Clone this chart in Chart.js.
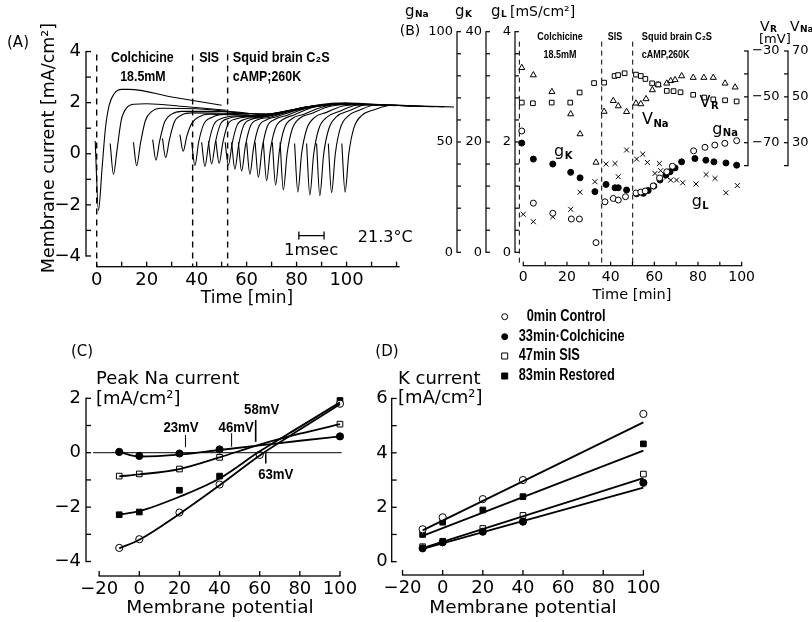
<!DOCTYPE html>
<html lang="en">
<head>
<meta charset="UTF-8">
<title>Colchicine, SIS and squid brain C2S: membrane currents</title>
<script src="https://cdn.jsdelivr.net/npm/chart.js"></script>
<style>
  body { margin: 0; background: #fff; }
  #wrap { position: relative; width: 812px; height: 622px; overflow: hidden; }
  #view { position: absolute; left: 0; top: 0; }
  .panel { position: absolute; visibility: hidden; }
</style>
</head>
<body>
<div id="wrap">
  <canvas class="panel" id="chartA" width="470" height="310" style="left:0;top:0"></canvas>
  <canvas class="panel" id="chartB" width="412" height="310" style="left:400px;top:0"></canvas>
  <canvas class="panel" id="chartC" width="370" height="302" style="left:0;top:320px"></canvas>
  <canvas class="panel" id="chartD" width="442" height="322" style="left:370px;top:300px"></canvas>
  <canvas id="view" width="812" height="622"></canvas>
</div>
<script>
// ---- (A) current traces, [time min, current mA/cm2] ----
const aTraces = [
  [[-0.6,0.5],[0.7,-2.22],[2.2,-0.5],[3.5,1.0],[5,1.9],[7,2.35],[10,2.52],[13,2.52],[30,2.22],[50,1.9]],
  [[5.4,0.4],[6.7,-0.8],[8.2,0.2],[9.8,1.3],[12,1.8],[15,1.94],[20,1.96],[35,1.85],[52,1.7]],
  [[14.7,0.45],[16,-0.47],[17.5,0.4],[19.5,1.3],[22,1.65],[26,1.78],[40,1.76],[61,1.55]],
  [[22.4,0.55],[23.7,-0.25],[25.2,0.5],[27.2,1.25],[30,1.55],[34,1.66],[50,1.66],[68,1.5]],
  [[26.3,0.6],[27.6,-0.15],[29.1,0.55],[31.1,1.25],[34,1.52],[38,1.6],[55,1.58],[73,1.55]],
  [[33.3,0.75],[34.6,0.1],[36.1,0.7],[38.1,1.2],[41,1.45],[45,1.55],[62,1.5],[80,1.72]],
  [[38.0,0.45],[39.3,-0.46],[40.8,0.45],[42.8,1.15],[46,1.42],[52,1.55],[63,1.5],[72,1.58],[84,1.85]],
  [[42,0.45],[43.3,-0.5],[44.8,0.4],[46.8,1.12],[50,1.38],[56,1.48],[63,1.48],[72,1.6],[88,1.9]],
  [[44.7,0.5],[46,-0.4],[47.5,0.45],[49.5,1.15],[52.7,1.38],[58,1.46],[64,1.46],[74,1.62],[91,1.9]],
  [[47.7,0.5],[49,-0.38],[50.5,0.45],[52.5,1.15],[55.7,1.36],[60,1.44],[65,1.45],[76,1.68],[94,1.95]],
  [[51.4,0.45],[52.7,-0.45],[54.2,0.4],[56.2,1.12],[59.4,1.35],[64,1.42],[70,1.5],[80,1.75],[98,1.97]],
  [[54,0.45],[55.3,-0.6],[56.8,0.35],[58.8,1.1],[62,1.35],[66,1.42],[72,1.55],[82,1.8],[100,1.98]],
  [[56.7,0.45],[58,-0.68],[59.5,0.3],[61.5,1.08],[64.7,1.34],[69,1.42],[75,1.6],[85,1.85],[103,1.95]],
  [[60,0.45],[61.3,-0.8],[62.8,0.25],[64.8,1.05],[68,1.33],[72,1.45],[78,1.65],[88,1.9],[106,1.95]],
  [[63.4,0.45],[64.7,-0.92],[66.2,0.2],[68.2,1.05],[71.4,1.35],[76,1.5],[82,1.72],[92,1.95],[110,1.93]],
  [[66.7,0.45],[68,-1.05],[69.5,0.15],[71.5,1.0],[74.7,1.35],[79,1.52],[86,1.8],[96,1.98],[113,1.9]],
  [[70.3,0.45],[71.6,-1.22],[73.1,0.1],[75.1,1.0],[78.3,1.38],[83,1.55],[90,1.82],[100,1.98],[117,1.9]],
  [[73.4,0.45],[74.7,-1.42],[76.2,0.0],[78.2,0.95],[81.4,1.4],[86,1.58],[93,1.85],[104,1.95],[120,1.88]],
  [[79.2,0.4],[80.5,-1.5],[82,0.0],[84,0.95],[87.2,1.42],[92,1.62],[99,1.88],[110,1.93],[126,1.86]],
  [[84,0.4],[85.3,-1.62],[86.8,-0.05],[88.8,0.95],[92,1.42],[97,1.65],[104,1.9],[115,1.92],[131,1.85]],
  [[88,0.4],[89.3,-1.64],[90.8,-0.05],[92.8,0.95],[96,1.45],[101,1.68],[108,1.92],[119,1.9],[135,1.84]],
  [[92.7,0.4],[94,-1.52],[95.5,0.0],[97.5,1.0],[100.7,1.48],[105,1.7],[112,1.92],[123,1.88],[139,1.84]],
  [[98.1,0.4],[99.4,-1.5],[100.9,0.0],[102.9,1.0],[106.1,1.5],[111,1.72],[118,1.9],[128,1.87],[143,1.83]]
];
const aPhaseMarks = [0, 38.4, 52.4];          // solution changes, min
const aTimeTicks = [0, 20, 40, 60, 80, 100];
const aCurrentTicks = [4, 2, 0, -2, -4];
const aScaleBar = [[80.9, -3.2], [91, -3.2]];  // 1 msec bar

// ---- (B) time course, [time min, value] ----
const bGNa = [[-0.7,55],[4.6,22.3],[13.5,17.7],[22,15.1],[25.7,15.1],[33.3,4.4],[37.4,22.9],[41.2,24.4],[43.5,23.7],[46.8,25.2],[51.6,26.9],[53.8,27.3],[55.8,27.8],[59.5,30.1],[62.4,33.7],[65.7,36.5],[68.3,39],[78,46],[83.2,47.6],[87.7,48.6],[92.3,49.4],[97.7,50.6]];
const bGK = [[-0.7,19.8],[4.6,16.9],[13.5,16.0],[21.7,14.5],[26,13.5],[32.8,11.0],[37.9,12.3],[42,11.7],[43.5,11.7],[47.3,11.3],[51.9,10.6],[55,10.7],[57.2,11.2],[59.8,12.0],[62.6,13.1],[65.3,14.0],[67.2,14.6],[69.5,15.3],[72.5,16.4],[78.6,17.0],[83.6,16.7],[87.3,16.4],[92.8,16.2],[97.7,15.8]];
const bGL = [[0,0.69],[4.6,0.555],[13.5,0.645],[21.7,0.78],[26,1.09],[32.8,1.28],[37.9,1.6],[42,1.61],[43.5,1.37],[47.3,1.855],[51.9,1.69],[54.7,1.78],[56.8,1.63],[60.3,1.43],[62.3,1.61],[62.9,1.48],[65.7,1.37],[67.5,1.31],[70.2,1.31],[73,1.26],[79.1,1.24],[83.7,1.41],[87.8,1.34],[92.8,1.08],[98,1.21]];
const bVR = [[-0.7,-52.5],[4.4,-52.8],[13,-52.5],[21.5,-52.5],[25.8,-48.1],[32.4,-44],[37,-43.8],[41.8,-40.9],[43.4,-40.5],[46.4,-39.7],[51.6,-40.3],[53.8,-40.9],[55.9,-42.2],[59,-44.1],[61.8,-44.6],[65.7,-47.4],[68.8,-47.5],[72,-48],[77.8,-49.1],[82.9,-50.3],[87,-51.1],[92.4,-51.5],[97.7,-52]];
const bVNa = [[-0.7,62.7],[4.6,59.5],[13.1,52.2],[21.7,42.5],[26,33.8],[33.3,21.4],[37,43.6],[41.2,48.3],[43.5,46],[47.3,43.5],[51.6,47.2],[53.8,46.9],[56.2,49.1],[59.1,53],[61.8,55.2],[65.7,55.9],[67.5,57],[69.5,57.4],[72.5,59.1],[77.8,58.4],[82.7,58.4],[87,58.4],[92.4,55.9],[97,54.2]];
const bPhaseMarks = [-1.8, 35.9, 50.1];
const bTimeTicks = [0, 20, 40, 60, 80, 100];
const bGNaTicks = [100, 50, 0];
const bGKTicks = [40, 20, 0];
const bGLTicks = [4, 2, 0];
const bVRTicks = [-30, -50, -70];
const bVNaTicks = [70, 50, 30];

// ---- (C) peak Na current vs membrane potential ----
const cPotential = [-10, 0, 20, 40, 100];
const cControl = [-3.5, -3.18, -2.2, -1.17, 1.8];
const cControl60 = -0.08;                     // extra control point at 60 mV
const cColchicine = [0.03, -0.12, -0.03, 0.12, 0.6];
const cSIS = [-0.86, -0.78, -0.6, -0.17, 1.05];
const cRestored = [-2.28, -2.18, -1.38, -0.86, 1.92];
const cFitPotential = [-10, 0, 20, 40, 60, 80, 100];
const cFitControl = [-3.52, -3.2, -2.25, -1.2, -0.1, 0.85, 1.78];
const cFitColchicine = [0.03, -0.14, -0.07, 0.1, 0.27, 0.44, 0.6];
const cFitSIS = [-0.87, -0.8, -0.6, -0.17, 0.3, 0.7, 1.05];
const cFitRestored = [-2.28, -2.15, -1.62, -0.95, 0.05, 0.95, 1.85];
const cReversal = [23, 46, 58, 63];           // mV
const cPotentialTicks = [-20, 0, 20, 40, 60, 80, 100];
const cCurrentTicks = [2, 0, -2, -4];

// ---- (D) K current vs membrane potential ----
const dPotential = [-10, 0, 20, 40, 100];
const dControl = [1.19, 1.63, 2.3, 3.0, 5.43];
const dColchicine = [0.49, 0.71, 1.1, 1.47, 2.9];
const dSIS = [0.55, 0.75, 1.22, 1.7, 3.22];
const dRestored = [1.0, 1.45, 1.9, 2.39, 4.33];
const dFitEnds = [-10, 100];
const dFitControl = [1.15, 5.12];
const dFitColchicine = [0.47, 2.72];
const dFitSIS = [0.5, 3.07];
const dFitRestored = [0.95, 4.08];
const dCurrentTicks = [6, 4, 2, 0];
const legendLabels = ['0min Control', '33min\u00b7Colchicine', '47min SIS', '83min Restored'];

const NUM = "'DejaVu Sans', sans-serif";
const NAR = "'Liberation Sans', Arial, sans-serif";   // squeezed horizontally when drawn
const minus = v => String(v).replace('-', '\u2212');

Chart.defaults.animation = false;
Chart.defaults.color = '#000';
Chart.defaults.plugins.legend.display = false;
Chart.defaults.plugins.tooltip.enabled = false;

function pairs(arr) { return arr.map(p => ({x: p[0], y: p[1]})); }
function zip(xs, ys) { return xs.map((x, i) => ({x: x, y: ys[i]})); }

function axis(opts) {
  // scale with fixed box size, explicit tick labels, no built-in lines
  return Object.assign({
    type: 'linear',
    grid: {display: false, drawTicks: false},
    border: {display: false},
    ticks: {
      autoSkip: false, maxRotation: 0, padding: opts.pad || 4,
      font: {family: NUM, size: opts.fontSize || 18},
      callback: v => minus(v)
    },
    afterBuildTicks: s => { s.ticks = opts.tickValues.map(v => ({value: v})); },
    afterFit: s => { if (opts.box.w) s.width = opts.box.w; if (opts.box.h) s.height = opts.box.h; }
  }, opts.base);
}

function drawLabel(chart, t) {
  const ctx = chart.ctx;
  let x = t.px, y = t.py;
  if (t.xv !== undefined) x = chart.scales[t.xs || 'x'].getPixelForValue(t.xv);
  if (t.yv !== undefined) y = chart.scales[t.ys || 'y'].getPixelForValue(t.yv);
  ctx.save();
  ctx.fillStyle = '#000';
  ctx.textBaseline = 'middle';
  ctx.translate(x, y);
  if (t.rot) ctx.rotate(t.rot);
  if (t.sx) ctx.scale(t.sx, 1);
  ctx.font = t.font;
  if (t.sub) {
    const w1 = ctx.measureText(t.text).width;
    ctx.font = t.subFont;
    const w2 = ctx.measureText(t.sub).width;
    const x0 = t.align === 'left' ? 0 : -(w1 + w2) / 2;
    ctx.textAlign = 'left';
    ctx.font = t.font;
    ctx.fillText(t.text, x0, 0);
    ctx.font = t.subFont;
    ctx.fillText(t.sub, x0 + w1 + 0.5, t.subDy || 4);
  } else {
    ctx.textAlign = t.align || 'center';
    ctx.fillText(t.text, 0, 0);
  }
  ctx.restore();
}

// axis line and inward ticks, painted as thin filled bars
function drawAxis(chart, a) {
  const ctx = chart.ctx;
  const s = chart.scales[a.id];
  const n = Math.round((a.to - a.from) / a.step);
  const w = a.lw || 1.3;
  ctx.save();
  ctx.fillStyle = '#000';
  if (s.isHorizontal()) {
    const y = s.top;
    const x0 = s.getPixelForValue(a.from);
    const x1 = s.getPixelForValue(a.end !== undefined ? a.end : a.to);
    ctx.fillRect(x0 - w / 2, y - w / 2, x1 - x0 + w, w);
    for (let i = 0; i <= n; i++) {
      const x = s.getPixelForValue(a.from + i * a.step);
      ctx.fillRect(x - w / 2, y - a.len, w, a.len);
    }
  } else {
    const left = s.position === 'left';
    const x = left ? s.right : s.left;
    const y0 = s.getPixelForValue(a.from);
    const y1 = s.getPixelForValue(a.to);
    ctx.fillRect(x - w / 2, y1 - w / 2, w, y0 - y1 + w);
    for (let i = 0; i <= n; i++) {
      const y = s.getPixelForValue(a.from + i * a.step);
      if (left) ctx.fillRect(x, y - w / 2, a.len, w);
      else ctx.fillRect(x - a.len, y - w / 2, a.len, w);
    }
  }
  ctx.restore();
}

function framePlugin(axes, texts, extra) {
  return {
    id: 'frame',
    afterDraw(chart) {
      texts.forEach(t => drawLabel(chart, t));
      axes.forEach(a => drawAxis(chart, a));
      if (extra) extra(chart);
    }
  };
}

const lineSet = (data, extra) => Object.assign({
  data: data, showLine: true, pointRadius: 0, borderColor: '#000',
  borderWidth: 1.2, fill: false
}, extra);

const markSet = (data, style, filled, r, axisId) => ({
  data: data, showLine: false, pointStyle: style, pointRadius: r,
  pointBackgroundColor: filled ? '#000' : '#fff', pointBorderColor: '#000',
  pointBorderWidth: 1, yAxisID: axisId || 'y'
});

// ================= (A) =================
const aDatasets = aTraces.map(tr => lineSet(pairs(tr), {borderWidth: 1.1, cubicInterpolationMode: 'monotone'}));
aPhaseMarks.forEach(t => aDatasets.push(lineSet([{x: t, y: 3.88}, {x: t, y: -4.42}], {borderWidth: 1.4, borderDash: [6, 5]})));
aDatasets.push(Object.assign(lineSet(pairs(aScaleBar), {borderWidth: 1.3}), {
  pointRadius: 4, pointStyle: 'line', rotation: 90, pointBorderColor: '#000', pointBorderWidth: 1.3
}));

const aLab = `bold 15.5px ${NAR}`;
const chartA = new Chart(document.getElementById('chartA'), {
  type: 'scatter',
  data: {datasets: aDatasets},
  options: {
    responsive: false, devicePixelRatio: 1,
    layout: {padding: {top: 49, right: 11, bottom: 0, left: 0}},
    scales: {
      x: axis({base: {position: 'bottom', min: -4.28, max: 145}, tickValues: aTimeTicks, box: {h: 43.3}, pad: 3}),
      y: axis({base: {position: 'left', min: -4.42, max: 4.1}, tickValues: aCurrentTicks, box: {w: 86}, pad: 5})
    }
  },
  plugins: [framePlugin(
    [{id: 'x', from: 0, to: 120, step: 10, len: 5, end: 121},
     {id: 'y', from: -4, to: 4, step: 1, len: 5}],
    [
      {text: '(A)', px: 18, py: 43, font: `15px ${NUM}`},
      {text: 'Membrane current [mA/cm\u00b2]', px: 49, py: 148, rot: -Math.PI / 2, font: `17.5px ${NUM}`},
      {text: 'Time [min]', px: 247, py: 299, font: `17px ${NUM}`},
      {text: 'Colchicine', xv: 18.3, yv: 3.74, font: aLab, sx: 0.8},
      {text: '18.5mM', xv: 18.5, yv: 3.03, font: aLab, sx: 0.8},
      {text: 'SIS', xv: 45, yv: 3.74, font: aLab, sx: 0.8},
      {text: 'Squid brain C\u2082S', xv: 54.5, yv: 3.74, align: 'left', font: aLab, sx: 0.82},
      {text: 'cAMP;260K', xv: 54.5, yv: 3.03, align: 'left', font: aLab, sx: 0.8},
      {text: '1msec', xv: 85.8, yv: -3.78, font: `16.5px ${NUM}`},
      {text: '21.3\u00b0C', xv: 104.5, yv: -3.3, align: 'left', font: `16px ${NUM}`}
    ])]
});

// ================= (B) =================
const bDatasets = [
  markSet(pairs(bGNa), 'circle', false, 3, 'gNa'),
  markSet(pairs(bGK), 'circle', true, 3, 'gK'),
  markSet(pairs(bGL), 'crossRot', false, 3.5, 'gL'),
  markSet(pairs(bVR), 'rect', false, 3.3, 'vr'),
  markSet(pairs(bVNa), 'triangle', false, 3.5, 'vna')
];
bPhaseMarks.forEach(t => bDatasets.push(Object.assign(
  lineSet([{x: t, y: 3.82}, {x: t, y: -0.24}], {borderWidth: 1, borderDash: [5, 4]}), {yAxisID: 'gL'})));

const bLab = `bold 11.5px ${NAR}`;
const chartB = new Chart(document.getElementById('chartB'), {
  type: 'scatter',
  data: {datasets: bDatasets},
  options: {
    responsive: false, devicePixelRatio: 1,
    layout: {padding: {top: 31.7, right: 0, bottom: 0, left: 0}},
    scales: {
      x: axis({base: {position: 'bottom', min: -3.8, max: 102.9}, tickValues: bTimeTicks, box: {h: 44.3}, pad: 3, fontSize: 14}),
      gNa: axis({base: {position: 'left', weight: 3, min: -6.07, max: 100}, tickValues: bGNaTicks, box: {w: 57}, fontSize: 13}),
      gK: axis({base: {position: 'left', weight: 2, min: -2.43, max: 40}, tickValues: bGKTicks, box: {w: 29}, fontSize: 13}),
      gL: axis({base: {position: 'left', weight: 1, min: -0.243, max: 4}, tickValues: bGLTicks, box: {w: 29}, fontSize: 13}),
      vr: axis({base: {position: 'right', weight: 1, min: -123.65, max: -21.58}, tickValues: bVRTicks, box: {w: 40}, fontSize: 13}),
      vna: axis({base: {position: 'right', weight: 2, min: -23.65, max: 78.42}, tickValues: bVNaTicks, box: {w: 24}, fontSize: 13})
    }
  },
  plugins: [framePlugin(
    [{id: 'x', from: 0, to: 100, step: 10, len: 4, lw: 1.2},
     {id: 'gNa', from: 0, to: 100, step: 10, len: 4, lw: 1.2},
     {id: 'gK', from: 0, to: 40, step: 4, len: 4, lw: 1.2},
     {id: 'gL', from: 0, to: 4, step: 0.4, len: 4, lw: 1.2},
     {id: 'vr', from: -80, to: -30, step: 10, len: 4, lw: 1.2},
     {id: 'vna', from: 20, to: 70, step: 10, len: 4, lw: 1.2}],
    [
      {text: '(B)', px: 10, py: 31, font: `14px ${NUM}`},
      {text: 'g', sub: 'Na', px: 5, py: 12, align: 'left', font: `15px ${NUM}`, subFont: `bold 9px ${NUM}`, subDy: 3},
      {text: 'g', sub: 'K', px: 55, py: 12, align: 'left', font: `15px ${NUM}`, subFont: `bold 9px ${NUM}`, subDy: 3},
      {text: 'g', sub: 'L', px: 91, py: 12, align: 'left', font: `15px ${NUM}`, subFont: `bold 9px ${NUM}`, subDy: 3},
      {text: '[mS/cm\u00b2]', px: 110, py: 12, align: 'left', font: `14px ${NUM}`},
      {text: 'V', sub: 'R', px: 360, py: 27, align: 'left', font: `14px ${NUM}`, subFont: `bold 9px ${NUM}`, subDy: 3},
      {text: 'V', sub: 'Na', px: 390, py: 27, align: 'left', font: `14px ${NUM}`, subFont: `bold 9px ${NUM}`, subDy: 3},
      {text: '[mV]', px: 359, py: 40, align: 'left', font: `13px ${NUM}`},
      {text: 'Time [min]', px: 232, py: 295, font: `14.5px ${NUM}`},
      {text: 'Colchicine', xv: 16.8, yv: 3.9, ys: 'gL', font: bLab, sx: 0.78},
      {text: '18.5mM', xv: 16.8, yv: 3.58, ys: 'gL', font: bLab, sx: 0.78},
      {text: 'SIS', xv: 42, yv: 3.9, ys: 'gL', font: bLab, sx: 0.78},
      {text: 'Squid brain C\u2082S', xv: 54.3, yv: 3.9, ys: 'gL', align: 'left', font: bLab, sx: 0.8},
      {text: 'cAMP,260K', xv: 54.3, yv: 3.58, ys: 'gL', align: 'left', font: bLab, sx: 0.78},
      {text: 'V', sub: 'R', xv: 85, yv: 2.71, ys: 'gL', font: `16px ${NUM}`, subFont: `bold 10px ${NUM}`},
      {text: 'V', sub: 'Na', xv: 60.3, yv: 2.4, ys: 'gL', font: `16px ${NUM}`, subFont: `bold 10px ${NUM}`},
      {text: 'g', sub: 'Na', xv: 92.3, yv: 2.22, ys: 'gL', font: `16px ${NUM}`, subFont: `bold 10px ${NUM}`},
      {text: 'g', sub: 'K', xv: 18.2, yv: 1.82, ys: 'gL', font: `16px ${NUM}`, subFont: `bold 10px ${NUM}`},
      {text: 'g', sub: 'L', xv: 80.9, yv: 0.91, ys: 'gL', font: `16px ${NUM}`, subFont: `bold 10px ${NUM}`}
    ])]
});

// ================= (C) =================
const cDatasets = [
  lineSet([{x: -23, y: 0}, {x: 100.8, y: 0}], {borderWidth: 1}),
  lineSet(zip(cFitPotential, cFitControl), {borderWidth: 1.8, cubicInterpolationMode: 'monotone'}),
  lineSet(zip(cFitPotential, cFitColchicine), {borderWidth: 1.8, cubicInterpolationMode: 'monotone'}),
  lineSet(zip(cFitPotential, cFitSIS), {borderWidth: 1.8, cubicInterpolationMode: 'monotone'}),
  lineSet(zip(cFitPotential, cFitRestored), {borderWidth: 1.8, cubicInterpolationMode: 'monotone'}),
  markSet(zip(cPotential, cControl).concat([{x: 60, y: cControl60}]), 'circle', false, 3.6),
  markSet(zip(cPotential, cColchicine), 'circle', true, 3.6),
  markSet(zip(cPotential, cSIS), 'rect', false, 4),
  markSet(zip(cPotential, cRestored), 'rect', true, 4)
];
// reversal potential markers: short vertical strokes above (below for 63 mV) the zero line
const cRevSpan = [[0.2, 0.65], [0.22, 0.72], [0.4, 1.2], [-0.02, -0.39]];
cReversal.forEach((v, i) => cDatasets.push(lineSet(
  [{x: v, y: cRevSpan[i][0]}, {x: v, y: cRevSpan[i][1]}], {borderWidth: i === 2 ? 1.6 : 1})));

const cLab = `bold 15px ${NAR}`;
const chartC = new Chart(document.getElementById('chartC'), {
  type: 'scatter',
  data: {datasets: cDatasets},
  options: {
    responsive: false, devicePixelRatio: 1,
    layout: {padding: {top: 76, right: 25, bottom: 0, left: 0}},
    scales: {
      x: axis({base: {position: 'bottom', min: -26.56, max: 102.5}, tickValues: cPotentialTicks, box: {h: 46}, pad: 3}),
      y: axis({base: {position: 'left', min: -4.533, max: 2.085}, tickValues: cCurrentTicks, box: {w: 86}, pad: 5})
    }
  },
  plugins: [framePlugin(
    [{id: 'x', from: -20, to: 100, step: 20, len: 5},
     {id: 'y', from: -4, to: 2, step: 1, len: 5}],
    [
      {text: '(C)', px: 82, py: 32, font: `15px ${NUM}`},
      {text: 'Peak Na current', px: 96, py: 59, align: 'left', font: `18px ${NUM}`},
      {text: '[mA/cm\u00b2]', px: 96, py: 79, align: 'left', font: `18px ${NUM}`},
      {text: 'Membrane potential', px: 220, py: 288, font: `18.5px ${NUM}`},
      {text: '23mV', xv: 20.8, yv: 0.92, font: cLab, sx: 0.88},
      {text: '46mV', xv: 48.3, yv: 0.92, font: cLab, sx: 0.88},
      {text: '58mV', xv: 61, yv: 1.57, font: cLab, sx: 0.88},
      {text: '63mV', xv: 68, yv: -0.82, font: cLab, sx: 0.88}
    ])]
});

// ================= (D) =================
const dDatasets = [
  lineSet(zip(dFitEnds, dFitControl), {borderWidth: 1.8}),
  lineSet(zip(dFitEnds, dFitColchicine), {borderWidth: 1.8}),
  lineSet(zip(dFitEnds, dFitSIS), {borderWidth: 1.8}),
  lineSet(zip(dFitEnds, dFitRestored), {borderWidth: 1.8}),
  markSet(zip(dPotential, dControl), 'circle', false, 3.6),
  markSet(zip(dPotential, dColchicine), 'circle', true, 3.6),
  markSet(zip(dPotential, dSIS), 'rect', false, 4),
  markSet(zip(dPotential, dRestored), 'rect', true, 4)
];

function drawLegend(chart) {
  const ctx = chart.ctx;
  const rows = [16.7, 36.7, 56, 76];
  const styles = [['c', false], ['c', true], ['r', false], ['r', true]];
  ctx.save();
  ctx.setLineDash([]);
  ctx.strokeStyle = '#000';
  ctx.lineWidth = 1;
  rows.forEach((y, i) => {
    const [shape, filled] = styles[i];
    ctx.fillStyle = filled ? '#000' : '#fff';
    ctx.beginPath();
    if (shape === 'c') ctx.arc(134.7, y, 3, 0, Math.PI * 2);
    else ctx.rect(131.7, y - 3, 6, 6);
    ctx.fill();
    ctx.stroke();
    drawLabel(chart, {text: legendLabels[i], px: i === 0 ? 156.7 : 148.7, py: y, align: 'left',
      font: `bold 16px ${NAR}`, sx: 0.8});
  });
  ctx.restore();
}

const chartD = new Chart(document.getElementById('chartD'), {
  type: 'scatter',
  data: {datasets: dDatasets},
  options: {
    responsive: false, devicePixelRatio: 1,
    layout: {padding: {top: 96, right: 162, bottom: 0, left: 0}},
    scales: {
      x: axis({base: {position: 'bottom', min: -25.4, max: 103.3}, tickValues: cPotentialTicks, box: {h: 47}, pad: 3}),
      y: axis({base: {position: 'left', min: -0.49, max: 6.09}, tickValues: dCurrentTicks, box: {w: 21.7}, pad: 4})
    }
  },
  plugins: [framePlugin(
    [{id: 'x', from: -20, to: 100, step: 20, len: 5},
     {id: 'y', from: 0, to: 6, step: 1, len: 5}],
    [
      {text: '(D)', px: 17, py: 52, font: `15px ${NUM}`},
      {text: 'K current', px: 28, py: 79, align: 'left', font: `18px ${NUM}`},
      {text: '[mA/cm\u00b2]', px: 28, py: 98, align: 'left', font: `18px ${NUM}`},
      {text: 'Membrane potential', px: 153, py: 308, font: `18.5px ${NUM}`}
    ], drawLegend)]
});

// the four Chart.js canvases overlap; copy them onto one visible canvas
const view = document.getElementById('view').getContext('2d');
view.fillStyle = '#fff';
view.fillRect(0, 0, 812, 622);
[[chartA, 0, 0], [chartB, 400, 0], [chartC, 0, 320], [chartD, 370, 300]].forEach(([ch, x, y]) => {
  view.drawImage(ch.canvas, x, y);
});
</script>
</body>
</html>
